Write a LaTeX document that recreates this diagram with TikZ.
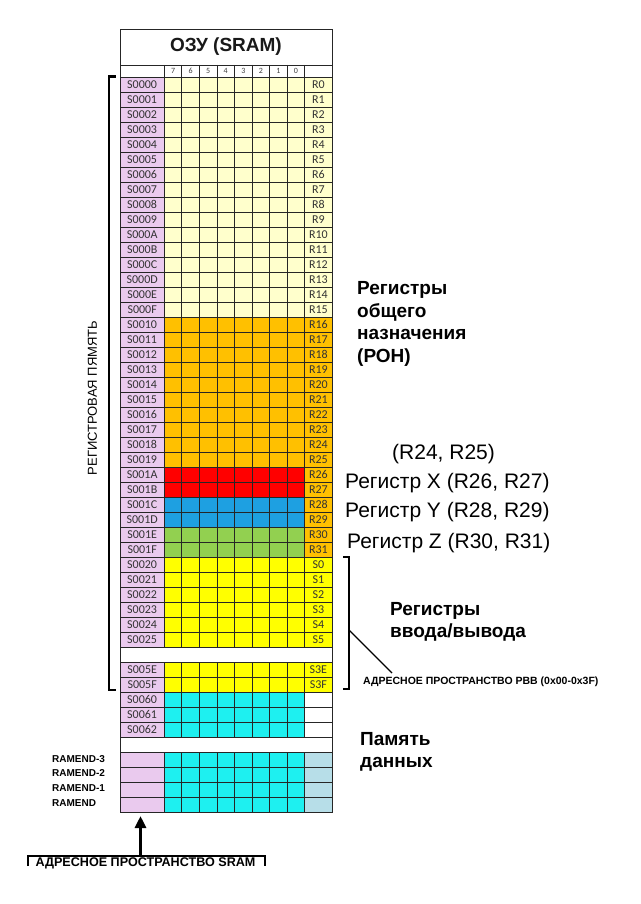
\documentclass[tikz,border=0pt]{standalone}
\usepackage{fontspec}
\setmainfont{Liberation Sans}
\newfontfamily\carfont{Carlito}
\usetikzlibrary{arrows.meta}
\definecolor{pinkc}{RGB}{234,202,238}
\definecolor{lyel}{RGB}{255,255,204}
\definecolor{orng}{RGB}{255,192,0}
\definecolor{redc}{RGB}{255,0,0}
\definecolor{bluec}{RGB}{30,160,225}
\definecolor{grnc}{RGB}{146,208,80}
\definecolor{yelc}{RGB}{255,255,0}
\definecolor{cync}{RGB}{30,240,240}
\definecolor{gblue}{RGB}{183,222,232}
\tikzset{
  gline/.style={draw=black!85, line width=0.8pt},
  addr/.style={font=\carfont\fontsize{12}{14}\selectfont, text=black!80, inner sep=0pt},
  rtxt/.style={font=\carfont\fontsize{12}{14}\selectfont, text=black!80, inner sep=0pt},
  bitf/.style={font=\carfont\fontsize{8}{9}\selectfont, text=black!75, inner sep=0pt},
  bigbold/.style={font=\bfseries\fontsize{19}{22.5}\selectfont, align=left, inner sep=0pt, anchor=north west},
  reglbl/.style={font=\fontsize{21}{24}\selectfont, inner sep=0pt, anchor=base west},
  smallbold/.style={font=\bfseries\fontsize{10}{12}\selectfont, inner sep=0pt, anchor=base west},
  brk/.style={line width=2.2pt, draw=black},
}
\newcommand\cellrow[5]{%
  \pgfmathsetmacro\yt{77+15*#1}%
  \pgfmathsetmacro\yb{92+15*#1}%
  \fill[pinkc] (120,\yt) rectangle (164.3,\yb);
  \fill[#2] (164.3,\yt) rectangle (304.7,\yb);
  \fill[#3] (304.7,\yt) rectangle (332,\yb);
  \foreach \i in {0,...,8}{\draw[gline] ({164.3+17.55*\i},\yt) -- ({164.3+17.55*\i},\yb);}
  \draw[gline] (120,\yt) rectangle (332,\yb);
  \node[addr] (a#1) at (142.15,{\yt+7.5}) {#4};
  \node[rtxt] (r#1) at (318.35,{\yt+7.5}) {#5};
}
\newcommand\blankrow[1]{%
  \pgfmathsetmacro\yt{77+15*#1}%
  \pgfmathsetmacro\yb{92+15*#1}%
  \filldraw[gline, fill=white] (120,\yt) rectangle (332,\yb);
}
\begin{document}
\begin{tikzpicture}[x=1pt,y=-1pt]
\useasboundingbox (0,0) rectangle (640,904);
\fill[white] (0,0) rectangle (640,904);
% title and header
\filldraw[gline, fill=white] (120,29.3) rectangle (332,65);
\node[font=\bfseries\fontsize{19}{22}\selectfont, text=black!90, inner sep=0pt] (title) at (226,47) {ОЗУ (SRAM)};
\filldraw[gline, fill=white] (120,65) rectangle (332,77);
\foreach \i in {0,...,8}{\draw[gline] ({164.3+17.55*\i},65) -- ({164.3+17.55*\i},77);}
\foreach \i/\b in {0/7,1/6,2/5,3/4,4/3,5/2,6/1,7/0}{\node[bitf] (b\b) at ({164.3+17.55*\i+8.775},71.3) {\b};}
% rows
\foreach \k/\a in {0/S0000,1/S0001,2/S0002,3/S0003,4/S0004,5/S0005,6/S0006,7/S0007,8/S0008,9/S0009,10/S000A,11/S000B,12/S000C,13/S000D,14/S000E,15/S000F}{\cellrow{\k}{lyel}{lyel}{\a}{R\k}}
\foreach \k/\a in {16/S0010,17/S0011,18/S0012,19/S0013,20/S0014,21/S0015,22/S0016,23/S0017,24/S0018,25/S0019}{\cellrow{\k}{orng}{orng}{\a}{R\k}}
\foreach \k/\a/\c in {26/S001A/redc,27/S001B/redc,28/S001C/bluec,29/S001D/bluec,30/S001E/grnc,31/S001F/grnc}{\cellrow{\k}{\c}{orng}{\a}{R\k}}
\foreach \k/\a/\r in {32/S0020/S0,33/S0021/S1,34/S0022/S2,35/S0023/S3,36/S0024/S4,37/S0025/S5,39/S005E/S3E,40/S005F/S3F}{\cellrow{\k}{yelc}{yelc}{\a}{\r}}
\blankrow{38}
\foreach \k/\a in {41/S0060,42/S0061,43/S0062}{\cellrow{\k}{cync}{white}{\a}{}}
\blankrow{44}
\foreach \k in {45,46,47,48}{\cellrow{\k}{cync}{gblue}{}{}}
% left bracket
\draw[brk] (115.5,76.5) -- (108.8,76.5) -- (108.8,690) -- (116,690);
\node[font=\fontsize{13}{15}\selectfont, rotate=90, inner sep=0pt] (regmem) at (92.5,398) {РЕГИСТРОВАЯ ПЯМЯТЬ};
% right labels
\node[bigbold] (ron) at (357,281.5) {Регистры\\общего\\назначения\\(РОН)};
\node[reglbl] (r2425) at (392,459.5) {(R24, R25)};
\node[reglbl] (regx) at (345,488.5) {Регистр X (R26, R27)};
\node[reglbl] (regy) at (345,517.5) {Регистр Y (R28, R29)};
\node[reglbl] (regz) at (347,548.5) {Регистр Z (R30, R31)};
\node[bigbold] (io) at (390,602) {Регистры\\ввода/вывода};
\node[bigbold] (mem) at (360,732) {Память\\данных};
% right bracket
\draw[brk] (343,557) -- (349,557) -- (349,689) -- (343,689);
\coordinate (bmid) at (349,630);
\coordinate (dend) at (392,673);
\draw[line width=1.3pt] (bmid) -- (dend);
\node[smallbold, font=\bfseries\fontsize{10.5}{12}\selectfont] (rvv) at (363,684.8) {АДРЕСНОЕ ПРОСТРАНСТВО РВВ (0x00-0x3F)};
% RAMEND labels
\node[smallbold] (re3) at (52,762.6) {RAMEND-3};
\node[smallbold] (re2) at (52,776.6) {RAMEND-2};
\node[smallbold] (re1) at (52,791.6) {RAMEND-1};
\node[smallbold] (re0) at (52,806.6) {RAMEND};
% bottom arrow and label
\node[font=\bfseries\fontsize{12.6}{15}\selectfont, inner sep=0pt] (sram) at (145.5,863.5) {АДРЕСНОЕ ПРОСТРАНСТВО SRAM};
\coordinate (arrtail) at (140.5,856);
\coordinate (arrtip) at (140.5,816);
\draw[line width=3pt, -{Triangle[length=12pt,width=11pt]}] (arrtail) -- (arrtip);
\draw[line width=2.2pt] (28,866) -- (28,855.7) -- (265,855.7) -- (265,866);
\end{tikzpicture}
\end{document}
